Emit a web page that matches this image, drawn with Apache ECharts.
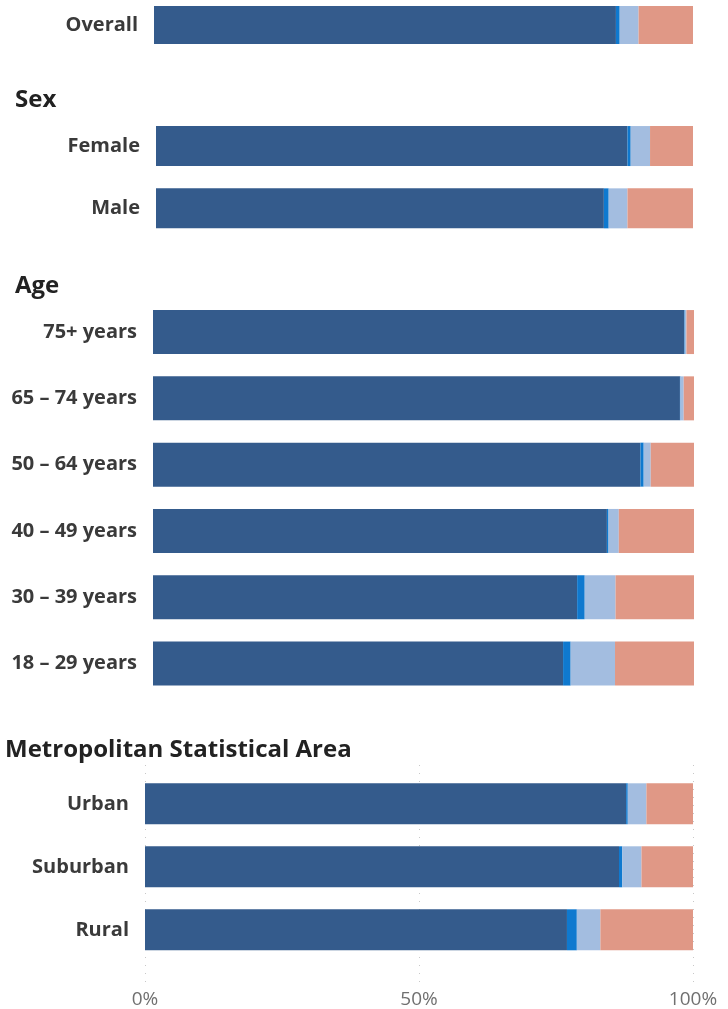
<!DOCTYPE html>
<html>
<head>
<meta charset="utf-8">
<script src="https://cdn.jsdelivr.net/npm/echarts@6/dist/echarts.min.js"></script>
<style>
  html, body { margin: 0; padding: 0; background: #fff; }
  #chart { width: 728px; height: 1009px; }
</style>
</head>
<body>
<div id="chart"></div>
<script>
// Categories per section
const overallCats = ['Overall'];
const sexCats = ['Female', 'Male'];
const ageCats = ['75+ years', '65 – 74 years', '50 – 64 years', '40 – 49 years', '30 – 39 years', '18 – 29 years'];
const msaCats = ['Urban', 'Suburban', 'Rural'];

// Shares (%) for the four stacked segments, in category order
const overallDark = [85.7], overallBright = [0.7], overallLight = [3.5], overallSalmon = [10.1];
const sexDark = [87.8, 83.4], sexBright = [0.6, 0.9], sexLight = [3.6, 3.5], sexSalmon = [8.0, 12.2];
const ageDark = [98.2, 97.4, 90.1, 83.9, 78.4, 75.8];
const ageBright = [0.1, 0.1, 0.6, 0.3, 1.4, 1.4];
const ageLight = [0.3, 0.6, 1.3, 1.9, 5.7, 8.2];
const ageSalmon = [1.4, 1.9, 8.0, 13.9, 14.5, 14.6];
const msaDark = [87.8, 86.5, 77.0], msaBright = [0.3, 0.6, 1.8], msaLight = [3.4, 3.5, 4.3], msaSalmon = [8.5, 9.4, 16.9];

// Axis ticks
const tickValues = [0, 50, 100];
const tickLabels = ['0%', '50%', '100%'];

const headings = ['Sex', 'Age', 'Metropolitan Statistical Area'];

const colors = ['#345b8c', '#0f79cf', '#a3bde0', '#e09886'];
const labelColor = '#3a3a3a';

// Section layout: left/right edge of bars, top of grid, band size, bar thickness
const sections = [
  { cats: overallCats, vals: [overallDark, overallBright, overallLight, overallSalmon], left: 154, right: 35, top: 6, band: 38, bar: 38 },
  { cats: sexCats, vals: [sexDark, sexBright, sexLight, sexSalmon], left: 156, right: 35, top: 114.9, band: 62.3, bar: 40 },
  { cats: ageCats, vals: [ageDark, ageBright, ageLight, ageSalmon], left: 153, right: 34, top: 298.9, band: 66.3, bar: 44 },
  { cats: msaCats, vals: [msaDark, msaBright, msaLight, msaSalmon], left: 145, right: 35, top: 772.3, band: 63, bar: 41 }
];

const grid = [], xAxis = [], yAxis = [], series = [];

// Background grid carrying the percentage axis and dotted guides
grid.push({ left: 145, right: 35, top: 765, height: 220 });
xAxis.push({
  gridIndex: 0, type: 'value', min: 0, max: 100, interval: 50,
  axisLine: { show: false }, axisTick: { show: false },
  splitLine: { show: true, lineStyle: { type: [1, 7], color: '#c8c8c8', width: 1 } },
  axisLabel: {
    margin: 5, color: '#707070', fontSize: 19, fontFamily: 'Open Sans',
    formatter: v => tickLabels[tickValues.indexOf(v)] || ''
  }
});
yAxis.push({ gridIndex: 0, type: 'value', show: false });

sections.forEach((s, i) => {
  const gi = i + 1;
  grid.push({ left: s.left, right: s.right, top: s.top, height: s.band * s.cats.length });
  xAxis.push({ gridIndex: gi, type: 'value', min: 0, max: 100, show: false });
  yAxis.push({
    gridIndex: gi, type: 'category', data: s.cats, inverse: true,
    axisLine: { show: false }, axisTick: { show: false },
    axisLabel: { margin: 16, color: labelColor, fontSize: 20, fontWeight: 'bold', fontFamily: 'Open Sans' }
  });
  s.vals.forEach((arr, k) => {
    series.push({
      type: 'bar', xAxisIndex: gi, yAxisIndex: gi, stack: 'sec' + gi,
      barWidth: s.bar, data: arr, silent: true,
      itemStyle: { color: colors[k] }
    });
  });
});

const headingPos = [{ x: 15, y: 100 }, { x: 15, y: 286 }, { x: 5, y: 750 }];
const graphic = headings.map((t, i) => ({
  type: 'text', x: headingPos[i].x, y: headingPos[i].y,
  style: { text: t, fill: '#222', font: 'bold 24px "Open Sans"', verticalAlign: 'middle' }
}));

const chart = echarts.init(document.getElementById('chart'), null, { renderer: 'canvas' });
chart.setOption({ animation: false, grid, xAxis, yAxis, series, graphic });
</script>
</body>
</html>
